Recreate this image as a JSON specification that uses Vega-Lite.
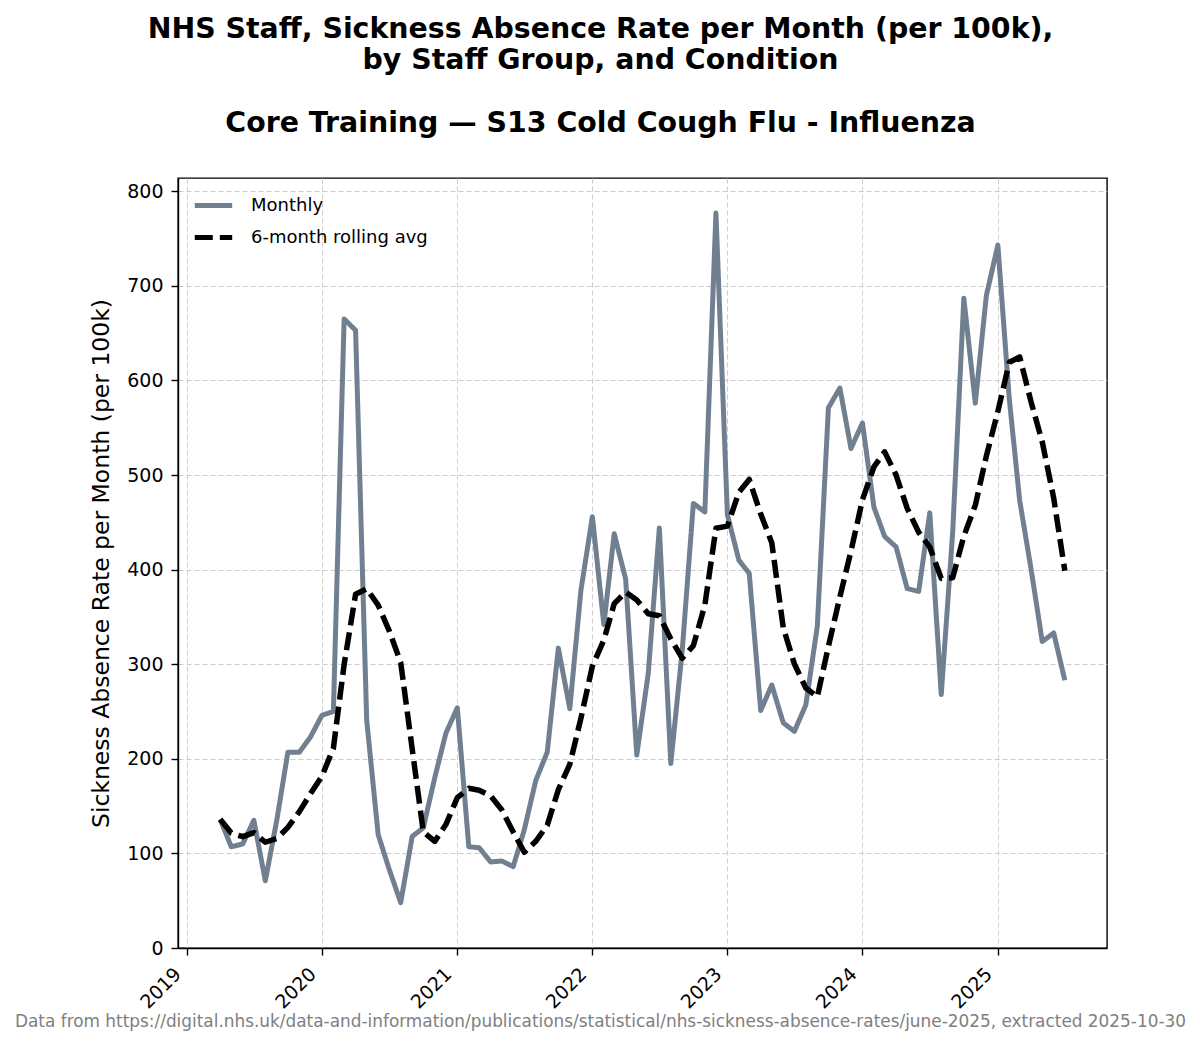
{
  "$schema": "https://vega.github.io/schema/vega-lite/v6.json",
  "width": 929,
  "height": 770,
  "autosize": {"type": "none"},
  "padding": {"left": 178, "top": 178, "right": 93, "bottom": 95},
  "background": "white",
  "title": {
    "text": ["NHS Staff, Sickness Absence Rate per Month (per 100k),", "by Staff Group, and Condition"],
    "subtitle": "Core Training \u2014 S13 Cold Cough Flu - Influenza",
    "anchor": "middle",
    "dx": -42,
    "offset": 40,
    "font": "DejaVu Sans",
    "fontSize": 28.4,
    "fontWeight": "bold",
    "lineHeight": 31,
    "color": "black",
    "subtitleFont": "DejaVu Sans",
    "subtitleFontSize": 28.4,
    "subtitleFontWeight": "bold",
    "subtitleColor": "black",
    "subtitlePadding": 34
  },
  "data": {
    "values": [
      {"month": "2019-04-01", "monthly": 136, "rolling": 136},
      {"month": "2019-05-01", "monthly": 107, "rolling": 121.5},
      {"month": "2019-06-01", "monthly": 110, "rolling": 117.7},
      {"month": "2019-07-01", "monthly": 135, "rolling": 122},
      {"month": "2019-08-01", "monthly": 71, "rolling": 111.8},
      {"month": "2019-09-01", "monthly": 135, "rolling": 115.7},
      {"month": "2019-10-01", "monthly": 207, "rolling": 127.5},
      {"month": "2019-11-01", "monthly": 207, "rolling": 144.2},
      {"month": "2019-12-01", "monthly": 223, "rolling": 163},
      {"month": "2020-01-01", "monthly": 246, "rolling": 181.5},
      {"month": "2020-02-01", "monthly": 250, "rolling": 211.3},
      {"month": "2020-03-01", "monthly": 665, "rolling": 299.7},
      {"month": "2020-04-01", "monthly": 653, "rolling": 374},
      {"month": "2020-05-01", "monthly": 241, "rolling": 379.7},
      {"month": "2020-06-01", "monthly": 120, "rolling": 362.5},
      {"month": "2020-07-01", "monthly": 83, "rolling": 335.3},
      {"month": "2020-08-01", "monthly": 48, "rolling": 301.7},
      {"month": "2020-09-01", "monthly": 118, "rolling": 210.5},
      {"month": "2020-10-01", "monthly": 127, "rolling": 122.8},
      {"month": "2020-11-01", "monthly": 180, "rolling": 112.7},
      {"month": "2020-12-01", "monthly": 227, "rolling": 130.5},
      {"month": "2021-01-01", "monthly": 254, "rolling": 159},
      {"month": "2021-02-01", "monthly": 107, "rolling": 168.8},
      {"month": "2021-03-01", "monthly": 106, "rolling": 166.8},
      {"month": "2021-04-01", "monthly": 91, "rolling": 160.8},
      {"month": "2021-05-01", "monthly": 92, "rolling": 146.2},
      {"month": "2021-06-01", "monthly": 86, "rolling": 122.7},
      {"month": "2021-07-01", "monthly": 125, "rolling": 101.2},
      {"month": "2021-08-01", "monthly": 177, "rolling": 112.8},
      {"month": "2021-09-01", "monthly": 207, "rolling": 129.7},
      {"month": "2021-10-01", "monthly": 317, "rolling": 167.3},
      {"month": "2021-11-01", "monthly": 253, "rolling": 194.2},
      {"month": "2021-12-01", "monthly": 378, "rolling": 242.8},
      {"month": "2022-01-01", "monthly": 456, "rolling": 298},
      {"month": "2022-02-01", "monthly": 342, "rolling": 325.5},
      {"month": "2022-03-01", "monthly": 438, "rolling": 364},
      {"month": "2022-04-01", "monthly": 390, "rolling": 376.2},
      {"month": "2022-05-01", "monthly": 204, "rolling": 368},
      {"month": "2022-06-01", "monthly": 290, "rolling": 353.3},
      {"month": "2022-07-01", "monthly": 444, "rolling": 351.3},
      {"month": "2022-08-01", "monthly": 195, "rolling": 326.8},
      {"month": "2022-09-01", "monthly": 315, "rolling": 306.3},
      {"month": "2022-10-01", "monthly": 470, "rolling": 319.7},
      {"month": "2022-11-01", "monthly": 461, "rolling": 362.5},
      {"month": "2022-12-01", "monthly": 777, "rolling": 443.7},
      {"month": "2023-01-01", "monthly": 458, "rolling": 446},
      {"month": "2023-02-01", "monthly": 410, "rolling": 481.8},
      {"month": "2023-03-01", "monthly": 396, "rolling": 495.3},
      {"month": "2023-04-01", "monthly": 251, "rolling": 458.8},
      {"month": "2023-05-01", "monthly": 278, "rolling": 428.3},
      {"month": "2023-06-01", "monthly": 238, "rolling": 338.5},
      {"month": "2023-07-01", "monthly": 229, "rolling": 300.3},
      {"month": "2023-08-01", "monthly": 257, "rolling": 274.8},
      {"month": "2023-09-01", "monthly": 340, "rolling": 265.5},
      {"month": "2023-10-01", "monthly": 571, "rolling": 318.8},
      {"month": "2023-11-01", "monthly": 592, "rolling": 371.2},
      {"month": "2023-12-01", "monthly": 528, "rolling": 419.5},
      {"month": "2024-01-01", "monthly": 555, "rolling": 473.8},
      {"month": "2024-02-01", "monthly": 466, "rolling": 508.7},
      {"month": "2024-03-01", "monthly": 435, "rolling": 524.5},
      {"month": "2024-04-01", "monthly": 424, "rolling": 500},
      {"month": "2024-05-01", "monthly": 380, "rolling": 464.7},
      {"month": "2024-06-01", "monthly": 377, "rolling": 439.5},
      {"month": "2024-07-01", "monthly": 460, "rolling": 423.7},
      {"month": "2024-08-01", "monthly": 268, "rolling": 390.7},
      {"month": "2024-09-01", "monthly": 440, "rolling": 391.5},
      {"month": "2024-10-01", "monthly": 687, "rolling": 435.3},
      {"month": "2024-11-01", "monthly": 576, "rolling": 468},
      {"month": "2024-12-01", "monthly": 690, "rolling": 520.2},
      {"month": "2025-01-01", "monthly": 743, "rolling": 567.3},
      {"month": "2025-02-01", "monthly": 580, "rolling": 619.3},
      {"month": "2025-03-01", "monthly": 473, "rolling": 624.8},
      {"month": "2025-04-01", "monthly": 400, "rolling": 577},
      {"month": "2025-05-01", "monthly": 324, "rolling": 535},
      {"month": "2025-06-01", "monthly": 333, "rolling": 475.5},
      {"month": "2025-07-01", "monthly": 283, "rolling": 398.8}
    ]
  },
  "transform": [
    {"fold": ["monthly", "rolling"], "as": ["series", "value"]}
  ],
  "encoding": {
    "x": {
      "field": "month",
      "type": "temporal",
      "scale": {
        "type": "utc",
        "domain": [
          {"year": 2018, "month": 12, "date": 8, "utc": true},
          {"year": 2025, "month": 10, "date": 23, "utc": true}
        ]
      },
      "axis": {
        "values": [
          {"year": 2019, "month": 1, "date": 1, "utc": true},
          {"year": 2020, "month": 1, "date": 1, "utc": true},
          {"year": 2021, "month": 1, "date": 1, "utc": true},
          {"year": 2022, "month": 1, "date": 1, "utc": true},
          {"year": 2023, "month": 1, "date": 1, "utc": true},
          {"year": 2024, "month": 1, "date": 1, "utc": true},
          {"year": 2025, "month": 1, "date": 1, "utc": true}
        ],
        "format": "%Y",
        "formatType": "utc",
        "labelAngle": -45,
        "labelAlign": "right",
        "labelBaseline": "alphabetic",
        "labelPadding": 20,
        "labelOffset": -5,
        "title": "Data from https://digital.nhs.uk/data-and-information/publications/statistical/nhs-sickness-absence-rates/june-2025, extracted 2025-10-30",
        "titleX": 422,
        "titleY": 78,
        "titleAnchor": null,
        "titleAlign": "center",
        "titleBaseline": "alphabetic",
        "titleFontSize": 16.9,
        "titleFontWeight": "normal",
        "titleColor": "#808080"
      }
    },
    "y": {
      "field": "value",
      "type": "quantitative",
      "scale": {"domain": [0, 814], "nice": false},
      "axis": {
        "values": [0, 100, 200, 300, 400, 500, 600, 700, 800],
        "labelPadding": 8,
        "title": "Sickness Absence Rate per Month (per 100k)",
        "titleFontSize": 23.5,
        "titleFontWeight": "normal",
        "titleColor": "black",
        "titlePadding": 13
      }
    },
    "color": {
      "field": "series",
      "type": "nominal",
      "scale": {"domain": ["monthly", "rolling"], "range": ["#708090", "#000000"]},
      "legend": {
        "title": null,
        "orient": "none",
        "legendX": 14,
        "legendY": 6,
        "labelLimit": 400,
        "labelExpr": "datum.value == 'monthly' ? 'Monthly' : '6-month rolling avg'"
      }
    },
    "strokeDash": {
      "field": "series",
      "type": "nominal",
      "scale": {"domain": ["monthly", "rolling"], "range": [[1, 0], [18, 7]]},
      "legend": {
        "title": null,
        "orient": "none",
        "legendX": 14,
        "legendY": 6,
        "labelLimit": 400,
        "labelExpr": "datum.value == 'monthly' ? 'Monthly' : '6-month rolling avg'"
      }
    }
  },
  "layer": [
    {
      "transform": [{"filter": "datum.series == 'monthly'"}],
      "mark": {"type": "line", "strokeWidth": 5, "strokeJoin": "round", "strokeCap": "butt"}
    },
    {
      "transform": [{"filter": "datum.series == 'rolling'"}],
      "mark": {"type": "line", "strokeWidth": 5.5, "strokeJoin": "round", "strokeCap": "butt"}
    }
  ],
  "config": {
    "font": "DejaVu Sans",
    "view": {"stroke": "black", "strokeWidth": 1.4},
    "axis": {
      "domainColor": "black",
      "domainWidth": 1.4,
      "tickColor": "black",
      "tickWidth": 1.4,
      "tickSize": 7,
      "labelFont": "DejaVu Sans",
      "labelFontSize": 19,
      "labelColor": "black",
      "titleFont": "DejaVu Sans",
      "grid": true,
      "gridColor": "#cccccc",
      "gridDash": [5, 3],
      "gridWidth": 1
    },
    "legend": {
      "symbolType": "stroke",
      "symbolSize": 1400,
      "symbolStrokeWidth": 5,
      "labelFont": "DejaVu Sans",
      "labelFontSize": 18,
      "labelColor": "black",
      "labelOffset": 16,
      "rowPadding": 0,
      "padding": 0
    }
  }
}
